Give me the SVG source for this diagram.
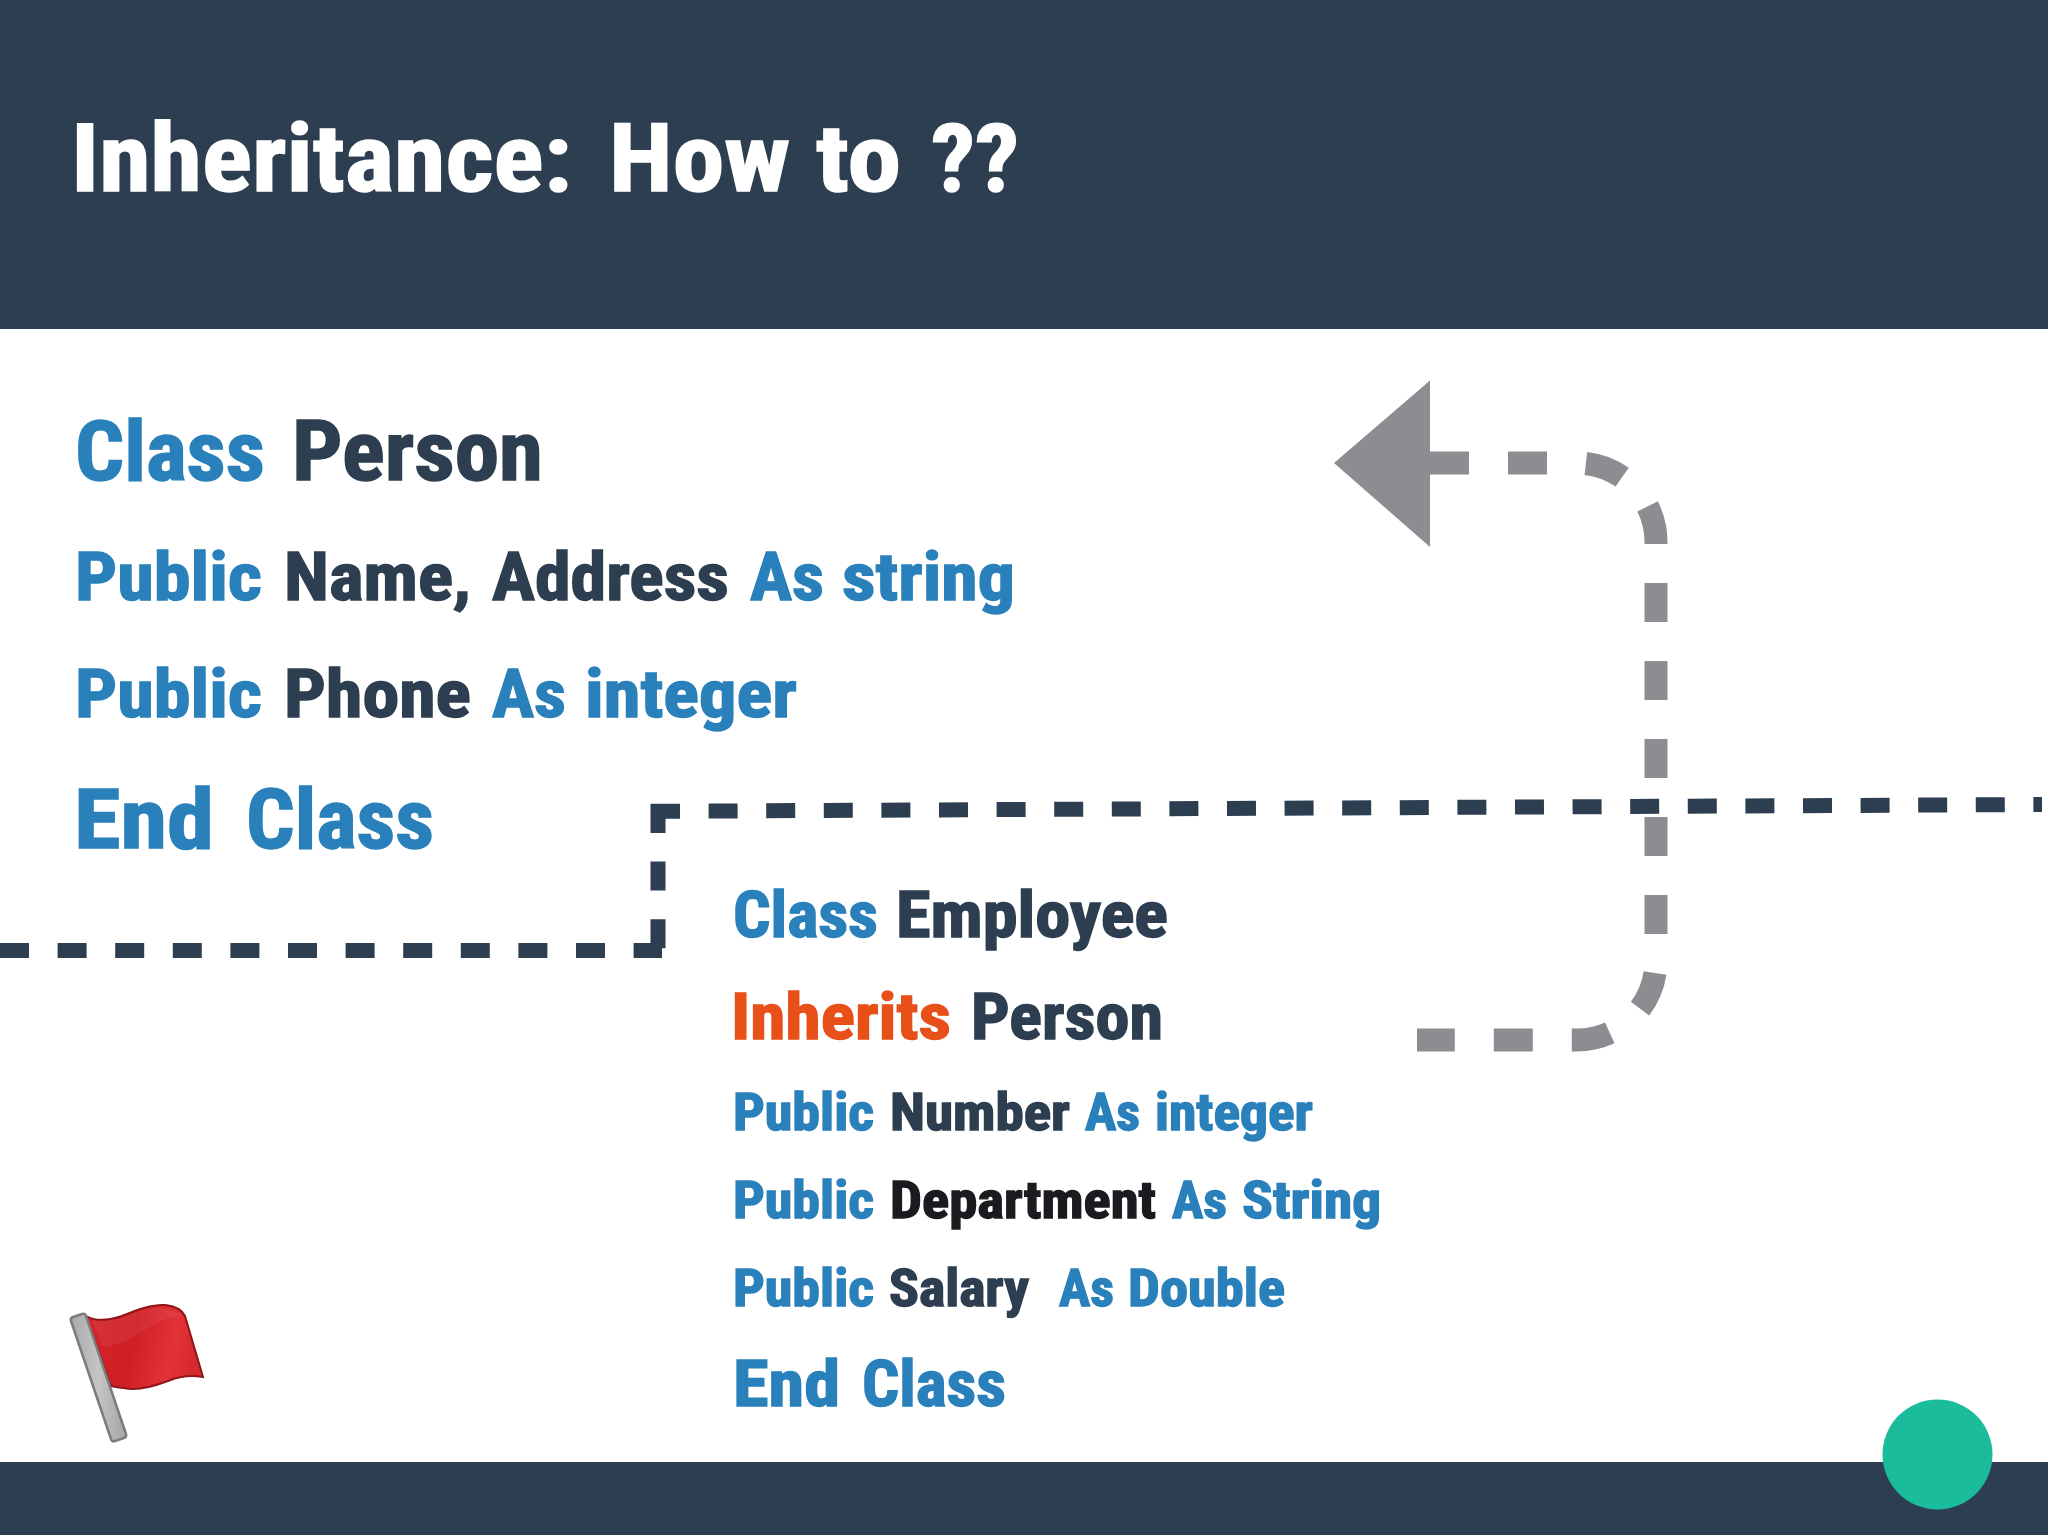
<svg xmlns="http://www.w3.org/2000/svg" width="2048" height="1535" viewBox="0 0 2048 1535">
<style>
text{font-family:"Liberation Sans Narrow","Roboto Condensed","Liberation Sans",sans-serif;font-weight:700;white-space:pre;paint-order:stroke}
tspan{stroke-width:1.4}
.b{fill:#2980ba;stroke:#2980ba}.n{fill:#2c3e50;stroke:#2c3e50}.o{fill:#e8501a;stroke:#e8501a}.k{fill:#1b1b1f;stroke:#1b1b1f}.w{fill:#fff;stroke:#fff}
.navy{fill:none;stroke:#2c3e50;stroke-width:15;stroke-dasharray:29 28.6}
.grey{fill:none;stroke:#8e8c90;stroke-width:23;stroke-dasharray:39 39}
</style>
<defs>
<linearGradient id="fl" x1="0" y1="0" x2="1" y2="0.15"><stop offset="0" stop-color="#d4262b"/><stop offset="0.45" stop-color="#cf1f24"/><stop offset="0.8" stop-color="#e23338"/><stop offset="1" stop-color="#d62a2e"/></linearGradient>
<linearGradient id="pl" x1="0" y1="0" x2="1" y2="0"><stop offset="0" stop-color="#a9a9a9"/><stop offset="0.5" stop-color="#c4c4c4"/><stop offset="1" stop-color="#a5a5a5"/></linearGradient>
</defs>
<rect width="2048" height="1535" fill="#fff"/>
<g id="header"><rect width="2048" height="329" fill="#2c3e50"/>
<text y="191" font-size="94"><tspan class="w" lengthAdjust="spacingAndGlyphs" x="71" textLength="501">Inheritance:</tspan> <tspan class="w" lengthAdjust="spacingAndGlyphs" x="609" textLength="181">How</tspan> <tspan class="w" lengthAdjust="spacingAndGlyphs" x="816" textLength="85">to</tspan> <tspan class="w" lengthAdjust="spacingAndGlyphs" x="931" textLength="88">??</tspan></text></g>
<g id="footer"><rect y="1462" width="2048" height="73" fill="#2c3e50"/></g>
<circle id="dot" cx="1937.5" cy="1454.5" r="55" fill="#1abc9c"/>
<g id="connectors">
<path class="navy" d="M651 811.3L2042 804.5"/>
<path class="navy" d="M658 804V956" stroke-dasharray="36 29 29 29 29"/>
<path class="navy" d="M0 950.5H662"/>
<path class="grey" d="M1430 463H1577A79 79 0 0 1 1656 542V961A79 79 0 0 1 1577 1040H1417"/>
<polygon points="1430,380.5 1430,547 1334,463" fill="#8e8c90"/>
</g>
<g id="class-person">
<text y="480" font-size="83"><tspan class="b" lengthAdjust="spacingAndGlyphs" x="75" textLength="190">Class</tspan> <tspan class="n" lengthAdjust="spacingAndGlyphs" x="292" textLength="251">Person</tspan></text>
<text y="600" font-size="67"><tspan class="b" lengthAdjust="spacingAndGlyphs" x="75" textLength="187">Public</tspan> <tspan class="n" lengthAdjust="spacingAndGlyphs" x="284" textLength="187">Name,</tspan> <tspan class="n" lengthAdjust="spacingAndGlyphs" x="492" textLength="237">Address</tspan> <tspan class="b" lengthAdjust="spacingAndGlyphs" x="750" textLength="74">As</tspan> <tspan class="b" lengthAdjust="spacingAndGlyphs" x="842" textLength="173">string</tspan></text>
<text y="717" font-size="67"><tspan class="b" lengthAdjust="spacingAndGlyphs" x="75" textLength="187">Public</tspan> <tspan class="n" lengthAdjust="spacingAndGlyphs" x="284" textLength="187">Phone</tspan> <tspan class="b" lengthAdjust="spacingAndGlyphs" x="492" textLength="74">As</tspan> <tspan class="b" lengthAdjust="spacingAndGlyphs" x="585" textLength="212">integer</tspan></text>
<text y="848" font-size="83"><tspan class="b" lengthAdjust="spacingAndGlyphs" x="74" textLength="140">End</tspan> <tspan class="b" lengthAdjust="spacingAndGlyphs" x="246" textLength="188">Class</tspan></text>
</g>
<g id="class-employee">
<text y="937" font-size="64"><tspan class="b" lengthAdjust="spacingAndGlyphs" x="733" textLength="145">Class</tspan> <tspan class="n" lengthAdjust="spacingAndGlyphs" x="896" textLength="272">Employee</tspan></text>
<text y="1039" font-size="64"><tspan class="o" lengthAdjust="spacingAndGlyphs" x="731" textLength="220">Inherits</tspan> <tspan class="n" lengthAdjust="spacingAndGlyphs" x="971" textLength="192">Person</tspan></text>
<text y="1130" font-size="51.5"><tspan class="b" lengthAdjust="spacingAndGlyphs" x="733" textLength="141">Public</tspan> <tspan class="n" lengthAdjust="spacingAndGlyphs" x="890" textLength="180">Number</tspan> <tspan class="b" lengthAdjust="spacingAndGlyphs" x="1085" textLength="55">As</tspan> <tspan class="b" lengthAdjust="spacingAndGlyphs" x="1155" textLength="158">integer</tspan></text>
<text y="1218" font-size="51.5"><tspan class="b" lengthAdjust="spacingAndGlyphs" x="733" textLength="141">Public</tspan> <tspan class="k" lengthAdjust="spacingAndGlyphs" x="890" textLength="266">Department</tspan> <tspan class="b" lengthAdjust="spacingAndGlyphs" x="1172" textLength="55">As</tspan> <tspan class="b" lengthAdjust="spacingAndGlyphs" x="1242" textLength="139">String</tspan></text>
<text y="1306" font-size="51.5"><tspan class="b" lengthAdjust="spacingAndGlyphs" x="733" textLength="141">Public</tspan> <tspan class="n" lengthAdjust="spacingAndGlyphs" x="889" textLength="140">Salary</tspan> <tspan class="b" lengthAdjust="spacingAndGlyphs" x="1059" textLength="55">As</tspan> <tspan class="b" lengthAdjust="spacingAndGlyphs" x="1128" textLength="157">Double</tspan></text>
<text y="1406" font-size="64"><tspan class="b" lengthAdjust="spacingAndGlyphs" x="733" textLength="107">End</tspan> <tspan class="b" lengthAdjust="spacingAndGlyphs" x="862" textLength="144">Class</tspan></text>
</g>
<g id="flag">
<path d="M86 1316C94 1321 108 1321 122 1316C138 1309 152 1304 165 1305C175 1306 182 1310 185 1316L203 1377C192 1375 180 1376 168 1381C152 1387 136 1391 124 1388C118 1387 114 1387 111 1386Z" fill="url(#fl)" stroke="#8f1519" stroke-width="2"/>
<path d="M92 1320C108 1323 122 1318 136 1312C152 1306 168 1306 183 1316C172 1316 158 1320 148 1328C134 1338 116 1346 103 1347Z" fill="#fff" opacity="0.06"/>
<path d="M73 1317L82 1314Q85 1313 86 1316L126 1434Q127 1437 124 1438L115 1441Q112 1442 111 1439L71 1321Q70 1318 73 1317Z" fill="url(#pl)" stroke="#7c7c7c" stroke-width="2.5"/>
</g>
</svg>
